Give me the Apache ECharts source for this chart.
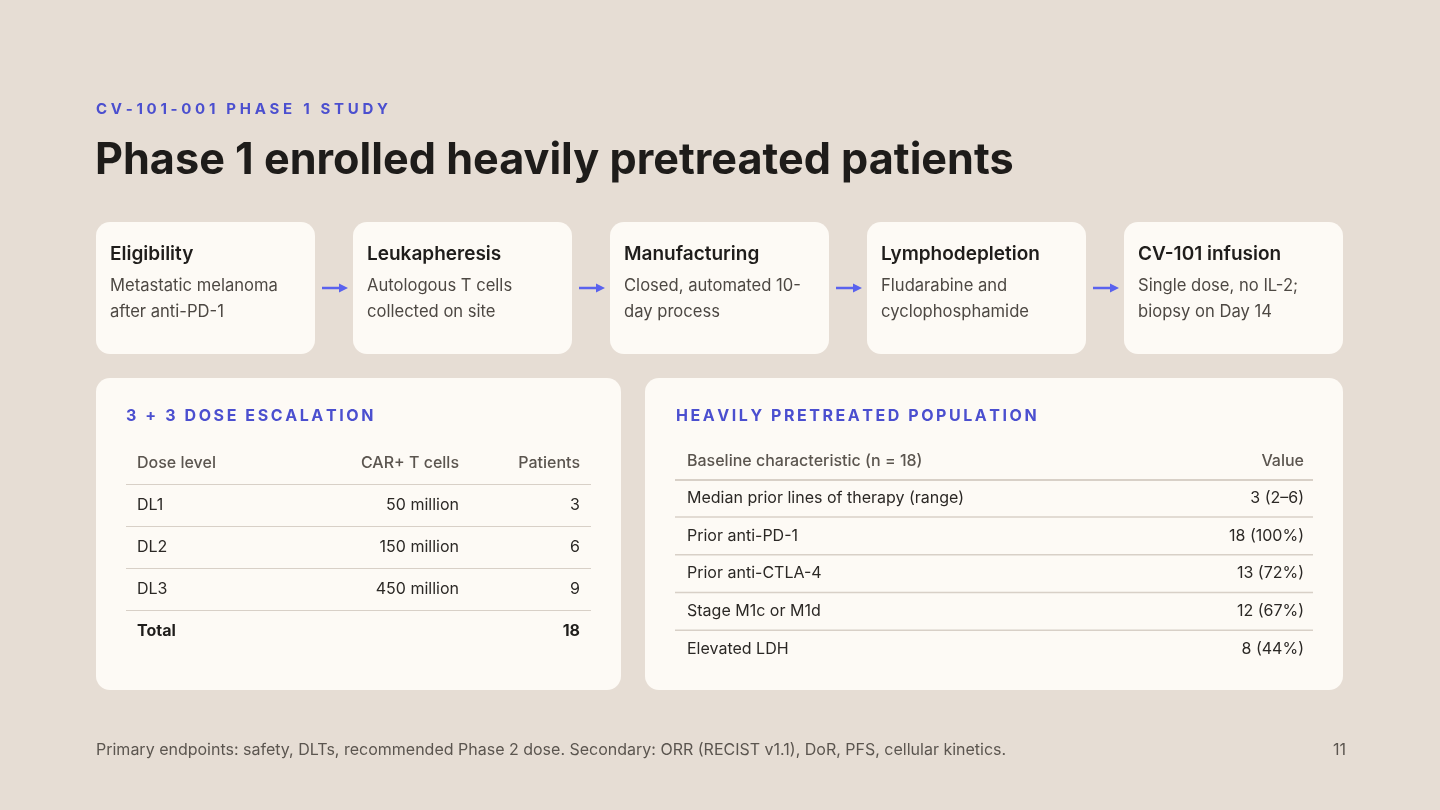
<!DOCTYPE html>
<html>
<head>
<meta charset="utf-8">
<script src="https://cdn.jsdelivr.net/npm/echarts@6/dist/echarts.min.js"></script>
<style>
  html, body { margin: 0; padding: 0; background: #e6ddd4; }
  #slide { width: 1440px; height: 810px; }
</style>
</head>
<body>
<div id="slide"></div>
<script>
// slide content
var eyebrow = 'CV-101-001 PHASE 1 STUDY'
var title = 'Phase 1 enrolled heavily pretreated patients'

var stepTitles = ['Eligibility', 'Leukapheresis', 'Manufacturing', 'Lymphodepletion', 'CV-101 infusion']
var stepLines = [
    ['Metastatic melanoma', 'after anti-PD-1'],
    ['Autologous T cells', 'collected on site'],
    ['Closed, automated 10-', 'day process'],
    ['Fludarabine and', 'cyclophosphamide'],
    ['Single dose, no IL-2;', 'biopsy on Day 14']
]

var doseTitle = '3 + 3 DOSE ESCALATION'
var doseHeaders = ['Dose level', 'CAR+ T cells', 'Patients']
var doseLevels = ['DL1', 'DL2', 'DL3']
var doseCells = ['50 million', '150 million', '450 million']
var dosePatients = [3, 6, 9]
var doseTotalLabel = 'Total'
var doseTotal = 18

var popTitle = 'HEAVILY PRETREATED POPULATION'
var popHeaders = ['Baseline characteristic (n = 18)', 'Value']
var popLabels = ['Median prior lines of therapy (range)', 'Prior anti-PD-1', 'Prior anti-CTLA-4', 'Stage M1c or M1d', 'Elevated LDH']
var popValues = ['3 (2\u20136)', '18 (100%)', '13 (72%)', '12 (67%)', '8 (44%)']

var footnote = 'Primary endpoints: safety, DLTs, recommended Phase 2 dose. Secondary: ORR (RECIST v1.1), DoR, PFS, cellular kinetics.'
var pageNo = '11'

var FONT = 'Inter, "Noto Sans", sans-serif'
var ACCENT = '#4b4fcf'
var CARD = '#fdfaf5'
var RULE = '#d8d0c7'

var measureCtx = document.createElement('canvas').getContext('2d')

// zrender has no letter spacing, so place the glyphs one by one
function spacedText(str, x, y, font, spacing, fill)
{
    measureCtx.font = font
    var out = []
    var cx = x
    for (var i = 0; i < str.length; i++)
    {
        var ch = str[i]
        if (ch != ' ')
        {
            out.push({
                type: 'text', x: cx, y: y, silent: true,
                style: { text: ch, font: font, fill: fill, textAlign: 'left', textVerticalAlign: 'middle' }
            })
        }
        cx += measureCtx.measureText(ch).width + spacing
    }
    return out
}

function txt(str, x, y, font, fill, align)
{
    return {
        type: 'text', x: x, y: y, silent: true,
        style: { text: str, font: font, fill: fill, textAlign: align || 'left', textVerticalAlign: 'middle' }
    }
}

function card(x, y, w, h)
{
    return { type: 'rect', shape: { x: x, y: y, width: w, height: h, r: 14 }, style: { fill: CARD }, silent: true }
}

function rule(x1, x2, y, width)
{
    return { type: 'line', shape: { x1: x1, y1: y, x2: x2, y2: y }, style: { stroke: RULE, lineWidth: width || 1 }, silent: true }
}

var els = []

// header
els = els.concat(spacedText(eyebrow, 96, 109, 'bold 15px ' + FONT, 3.7, ACCENT))
els.push(txt(title, 95, 161, 'bold 43.2px ' + FONT, '#1e1c1a'))

// process flow
var stepX = 96, stepW = 219, stepGap = 38, stepY = 222, stepH = 132
stepTitles.forEach(function(t, i)
{
    var x = stepX + i * (stepW + stepGap)
    els.push(card(x, stepY, stepW, stepH))
    els.push(txt(t, x + 14, 254, '600 19px ' + FONT, '#1f1d1b'))
    stepLines[i].forEach(function(l, j)
    {
        els.push(txt(l, x + 14, 285.5 + j * 26, '16.6px ' + FONT, '#4d4843'))
    })
    if (i > 0)
    {
        var ax = x - 31
        els.push({ type: 'line', shape: { x1: ax, y1: 288, x2: ax + 19, y2: 288 }, style: { stroke: '#5a62ee', lineWidth: 2.5 }, silent: true })
        els.push({ type: 'polygon', shape: { points: [[ax + 17, 283.5], [ax + 26, 288], [ax + 17, 292.5]] }, style: { fill: '#5a62ee' }, silent: true })
    }
})

// dose escalation table
els.push(card(96, 378, 525, 312))
els = els.concat(spacedText(doseTitle, 126, 416, 'bold 16px ' + FONT, 2.6, ACCENT))
var dL = 126, dR = 591, dCol2 = 459, dCol3 = 580, dRowH = 42
els.push(txt(doseHeaders[0], 137, 463, '500 16px ' + FONT, '#5b554f'))
els.push(txt(doseHeaders[1], dCol2, 463, '500 16px ' + FONT, '#5b554f', 'right'))
els.push(txt(doseHeaders[2], dCol3, 463, '500 16px ' + FONT, '#5b554f', 'right'))
els.push(rule(dL, dR, 484.5))
doseLevels.forEach(function(lv, i)
{
    var cy = 505 + i * dRowH
    els.push(txt(lv, 137, cy, '16px ' + FONT, '#2b2825'))
    els.push(txt(doseCells[i], dCol2, cy, '16px ' + FONT, '#2b2825', 'right'))
    els.push(txt(String(dosePatients[i]), dCol3, cy, '16px ' + FONT, '#2b2825', 'right'))
    els.push(rule(dL, dR, cy + 21.5))
})
var totY = 505 + doseLevels.length * dRowH
els.push(txt(doseTotalLabel, 137, totY, 'bold 16px ' + FONT, '#1f1d1b'))
els.push(txt(String(doseTotal), dCol3, totY, 'bold 16px ' + FONT, '#1f1d1b', 'right'))

// baseline population table
els.push(card(645, 378, 698, 312))
els = els.concat(spacedText(popTitle, 676, 416, 'bold 16px ' + FONT, 2.55, ACCENT))
var pL = 675, pR = 1313, pVal = 1304, pRowH = 37.75
els.push(txt(popHeaders[0], 687, 461, '500 16px ' + FONT, '#5b554f'))
els.push(txt(popHeaders[1], pVal, 461, '500 16px ' + FONT, '#5b554f', 'right'))
els.push(rule(pL, pR, 480, 2))
popLabels.forEach(function(lb, i)
{
    var cy = 498 + i * pRowH
    els.push(txt(lb, 687, cy, '16px ' + FONT, '#2b2825'))
    els.push(txt(popValues[i], pVal, cy, '16px ' + FONT, '#2b2825', 'right'))
    if (i < popLabels.length - 1) els.push(rule(pL, pR, cy + 19, 1.4))
})

// footer
els.push(txt(footnote, 96, 750, '16px ' + FONT, '#5b554f'))
els.push(txt(pageNo, 1346, 750, '16px ' + FONT, '#5b554f', 'right'))

var chartDom = document.getElementById('slide')
var myChart = echarts.init(chartDom, null, { renderer: 'canvas' })
var option = {
    backgroundColor: '#e6ddd4',
    animation: false,
    graphic: { elements: els }
}
myChart.setOption(option)
</script>
</body>
</html>
